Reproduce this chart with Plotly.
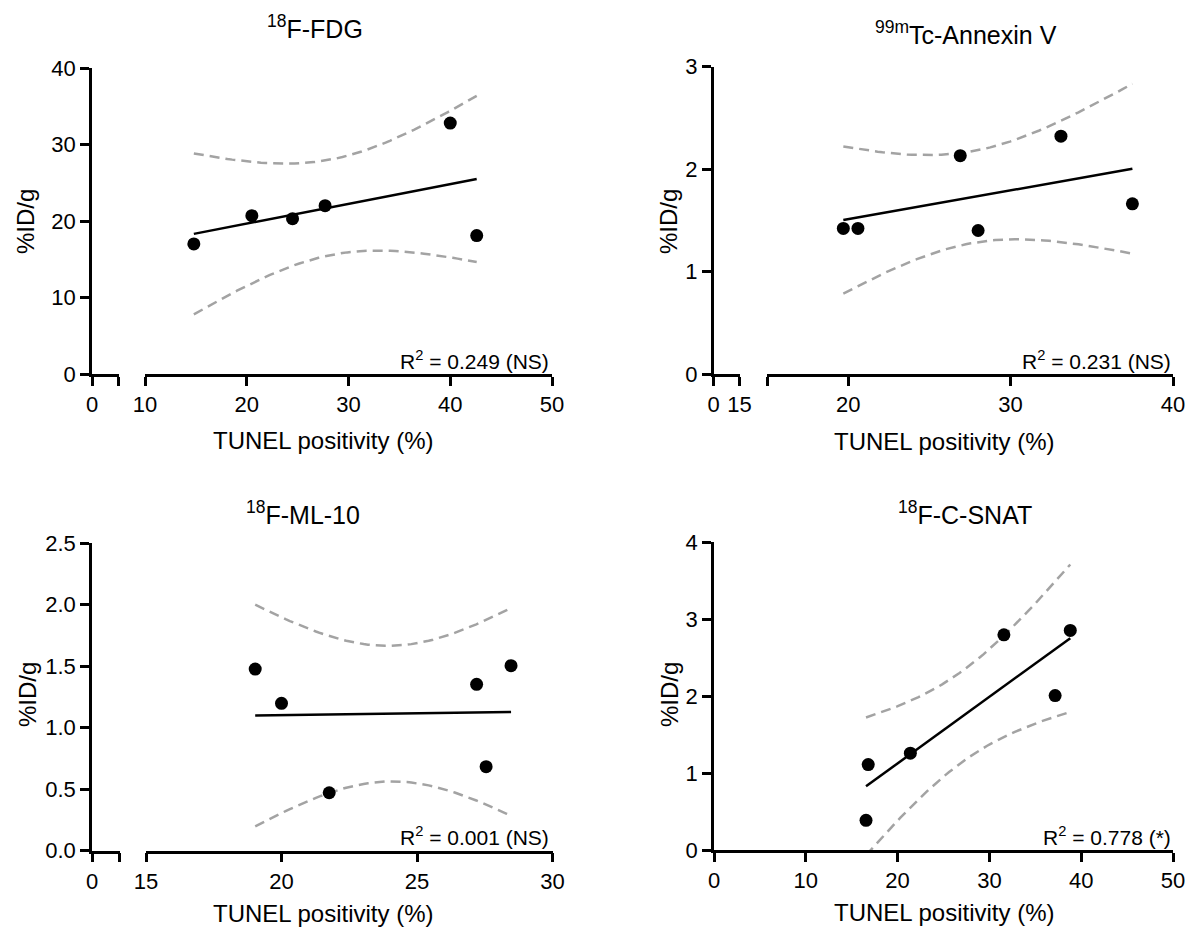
import numpy as np
import plotly.graph_objects as go

W, H = 1192, 928

# ---- data ----
fdg_x = [14.8, 20.5, 24.5, 27.7, 40.0, 42.6]
fdg_y = [17.0, 20.7, 20.3, 22.0, 32.8, 18.1]

annex_x = [19.7, 20.6, 26.9, 28.0, 33.1, 37.5]
annex_y = [1.42, 1.42, 2.13, 1.40, 2.32, 1.66]

ml10_x = [19.03, 20.0, 21.76, 27.2, 27.55, 28.47]
ml10_y = [1.476, 1.197, 0.471, 1.352, 0.683, 1.503]

csnat_x = [16.56, 16.8, 21.39, 31.58, 37.16, 38.81]
csnat_y = [0.386, 1.109, 1.257, 2.795, 2.006, 2.852]

titles = ["<sup>18</sup>F-FDG", "<sup>99m</sup>Tc-Annexin V",
          "<sup>18</sup>F-ML-10", "<sup>18</sup>F-C-SNAT"]
r2_labels = ["R<sup>2</sup> = 0.249 (NS)", "R<sup>2</sup> = 0.231 (NS)",
             "R<sup>2</sup> = 0.001 (NS)", "R<sup>2</sup> = 0.778 (*)"]
x_title = "TUNEL positivity (%)"
y_title = "%ID/g"

FONT = "Liberation Sans, Arial, Helvetica, sans-serif"
T95 = 2.776  # t(0.975, df=4)


def fit_band(x, y, n=60):
    x = np.asarray(x, float)
    y = np.asarray(y, float)
    b, a = np.polyfit(x, y, 1)
    res = y - (a + b * x)
    s = np.sqrt(np.sum(res ** 2) / (len(x) - 2))
    xs = np.linspace(x.min(), x.max(), n)
    se = s * np.sqrt(1 / len(x) + (xs - x.mean()) ** 2 / np.sum((x - x.mean()) ** 2))
    yh = a + b * xs
    return xs, yh, yh - T95 * se, yh + T95 * se


def px(v):
    return v / W


def py(v):
    return 1 - v / H


fig = go.Figure()

axis_common = dict(showline=True, linecolor="black", linewidth=2.5,
                   ticks="outside", ticklen=9, tickwidth=2.5, tickcolor="black",
                   showgrid=False, zeroline=False, fixedrange=True, automargin=False,
                   tickfont=dict(family=FONT, size=22, color="black"))

panels = [
    dict(x=fdg_x, y=fdg_y, xa="x5", xb="x", yax="y",
         xa_dom=(92, 118.5), xa_rng=(0, 2.6), xa_ticks=([0, 2.6], ["0", ""]),
         xb_dom=(145, 552), xb_rng=(10, 50), xb_ticks=([10, 20, 30, 40, 50], ["10", "20", "30", "40", "50"]),
         y_dom=(374, 68), y_rng=(0, 40), y_ticks=([0, 10, 20, 30, 40], ["0", "10", "20", "30", "40"])),
    dict(x=annex_x, y=annex_y, xa="x6", xb="x2", yax="y2",
         xa_dom=(713.6, 739.5), xa_rng=(0, 15), xa_ticks=([0, 15], ["0", "15"]),
         xb_dom=(767, 1173), xb_rng=(15, 40), xb_ticks=([15, 20, 30, 40], ["", "20", "30", "40"]),
         y_dom=(374, 66.5), y_rng=(0, 3), y_ticks=([0, 1, 2, 3], ["0", "1", "2", "3"])),
    dict(x=ml10_x, y=ml10_y, xa="x7", xb="x3", yax="y3",
         xa_dom=(92, 119.5), xa_rng=(0, 1), xa_ticks=([0, 1], ["0", ""]),
         xb_dom=(146, 552.5), xb_rng=(15, 30), xb_ticks=([15, 20, 25, 30], ["15", "20", "25", "30"]),
         y_dom=(850.7, 543), y_rng=(0, 2.5),
         y_ticks=([0, 0.5, 1, 1.5, 2, 2.5], ["0.0", "0.5", "1.0", "1.5", "2.0", "2.5"])),
    dict(x=csnat_x, y=csnat_y, xa=None, xb="x4", yax="y4",
         xb_dom=(714, 1173), xb_rng=(0, 50), xb_ticks=([0, 10, 20, 30, 40, 50], ["0", "10", "20", "30", "40", "50"]),
         y_dom=(850, 542), y_rng=(0, 4), y_ticks=([0, 1, 2, 3, 4], ["0", "1", "2", "3", "4"])),
]

layout_axes = {}
for p in panels:
    xs, yh, lo, hi = fit_band(p["x"], p["y"])
    for band in (lo, hi):
        fig.add_trace(go.Scatter(x=xs, y=band, mode="lines", xaxis=p["xb"], yaxis=p["yax"],
                                 line=dict(color="#a3a3a3", width=2.5, dash="10px,6px"),
                                 showlegend=False, hoverinfo="skip"))
    fig.add_trace(go.Scatter(x=xs, y=yh, mode="lines", xaxis=p["xb"], yaxis=p["yax"],
                             line=dict(color="black", width=2.5), showlegend=False))
    fig.add_trace(go.Scatter(x=p["x"], y=p["y"], mode="markers", xaxis=p["xb"], yaxis=p["yax"],
                             marker=dict(color="black", size=13), showlegend=False, cliponaxis=False))
    yname = "yaxis" + p["yax"][1:]
    xbname = "xaxis" + p["xb"][1:]
    layout_axes[xbname] = dict(axis_common, domain=[px(p["xb_dom"][0]), px(p["xb_dom"][1])],
                               range=list(p["xb_rng"]), tickmode="array",
                               tickvals=p["xb_ticks"][0], ticktext=p["xb_ticks"][1],
                               anchor=p["yax"])
    y_anchor = p["xa"] if p["xa"] else p["xb"]
    layout_axes[yname] = dict(axis_common, domain=[py(p["y_dom"][0]), py(p["y_dom"][1])],
                              range=list(p["y_rng"]), tickmode="array",
                              tickvals=p["y_ticks"][0], ticktext=p["y_ticks"][1],
                              anchor=y_anchor)
    if p["xa"]:
        fig.add_trace(go.Scatter(x=[p["xa_rng"][0]], y=[p["y_rng"][0]], mode="markers",
                                 xaxis=p["xa"], yaxis=p["yax"], marker=dict(opacity=0),
                                 showlegend=False, hoverinfo="skip"))
        xaname = "xaxis" + p["xa"][1:]
        layout_axes[xaname] = dict(axis_common, domain=[px(p["xa_dom"][0]), px(p["xa_dom"][1])],
                                   range=list(p["xa_rng"]), tickmode="array",
                                   tickvals=p["xa_ticks"][0], ticktext=p["xa_ticks"][1],
                                   anchor=p["yax"])

annotations = []


def ann(text, x, y, size, xanchor="center", yanchor="middle", angle=0):
    annotations.append(dict(text=text, x=px(x), y=py(y), xref="paper", yref="paper",
                            xanchor=xanchor, yanchor=yanchor, showarrow=False, textangle=angle,
                            font=dict(family=FONT, size=size, color="black")))


title_pos = [(315, 27), (966, 33), (303, 513), (965, 513)]
ytitle_pos = [(25, 222), (668, 222), (27, 695), (669, 695)]
xtitle_pos = [(323, 440), (944, 442), (323, 913), (944, 912)]
r2_pos = [(551, 360), (1173, 360), (551, 836), (1173, 836)]

for i in range(4):
    ann(titles[i], *title_pos[i], 25)
    ann(y_title, *ytitle_pos[i], 24, angle=-90)
    ann(x_title, *xtitle_pos[i], 24)
    ann(r2_labels[i], *r2_pos[i], 21, xanchor="right")

fig.update_layout(template="none", width=W, height=H,
                  margin=dict(l=0, r=0, t=0, b=0, pad=0, autoexpand=False),
                  paper_bgcolor="white", plot_bgcolor="white",
                  annotations=annotations, showlegend=False, **layout_axes)

fig.write_html("out.html", config={"displayModeBar": False},
               post_script="document.body.style.margin='0';document.body.style.overflow='hidden';")
